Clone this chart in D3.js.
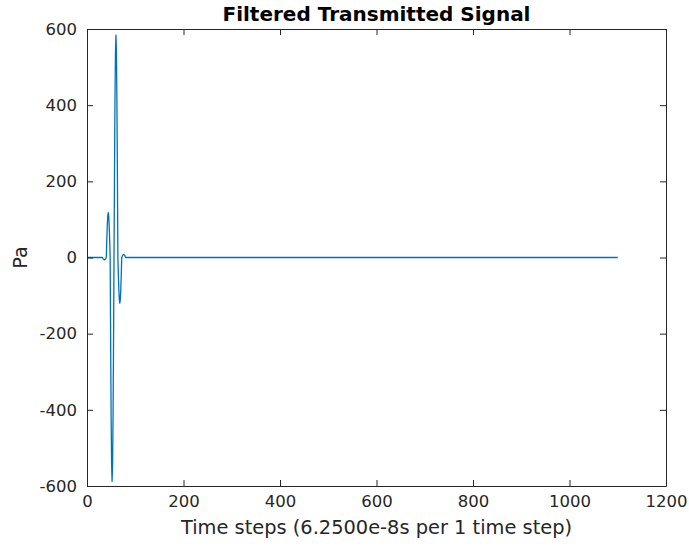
<!DOCTYPE html>
<html>
<head>
<meta charset="utf-8">
<script src="https://cdn.jsdelivr.net/npm/d3@7"></script>
<style>
  html, body { margin: 0; padding: 0; background: #fff; }
  svg { display: block; }
  text { font-family: "DejaVu Sans", sans-serif; }
</style>
</head>
<body>
<div id="chart"></div>
<script>
// ---- data ----
const title = "Filtered Transmitted Signal";
const xLabel = "Time steps (6.2500e-8s per 1 time step)";
const yLabel = "Pa";
const xTicks = [0, 200, 400, 600, 800, 1000, 1200];
const yTicks = [-600, -400, -200, 0, 200, 400, 600];

const timeSteps = [0, 32, 33, 34, 35, 36, 37, 38, 39, 40,
  41, 42, 43, 44, 45, 46, 47, 48,
  49, 50, 51, 52, 53, 54, 55, 56,
  57, 58, 59, 60, 61, 62, 63, 64,
  65, 66, 67, 68, 69, 70, 71, 72,
  73, 74, 75, 76, 77, 78, 79, 80, 1100];
const pressure = [0, 0, -2.3, -4.2, -5.5, -6, -5.5, -4.2, -2.3, 0,
  45, 83, 109, 118, 109, 83, 45, 0,
  -225, -416, -543, -588, -543, -416, -225, 0,
  224, 413, 540, 584, 540, 413, 224, 0,
  -46, -85, -111, -120, -111, -85, -46, 0,
  3, 6, 7, 8, 7, 6, 3, 0, 0];

// ---- layout ----
const W = 689, H = 548;
const mLeft = 87, mRight = 666, mTop = 29, mBottom = 486;
const axisColor = "#262626";
const lineColor = "#0072BD";
const tickLen = 6;
const fmt = v => String(v); // plain integers with ASCII hyphen minus

const svg = d3.select("#chart").append("svg").attr("width", W).attr("height", H);

const x = d3.scaleLinear().domain([0, 1200]).range([mLeft, mRight]);
const y = d3.scaleLinear().domain([-600, 600]).range([mBottom, mTop]);

// data line
const points = timeSteps.map((t, i) => [t, pressure[i]]);
svg.append("path")
  .datum(points)
  .attr("fill", "none")
  .attr("stroke", lineColor)
  .attr("stroke-width", 1.3)
  .attr("stroke-linejoin", "round")
  .attr("d", d3.line().x(d => x(d[0])).y(d => y(d[1])));

// axes
function styleAxis(g) {
  g.selectAll("path.domain").attr("stroke", axisColor).attr("stroke-width", 1);
  g.selectAll(".tick line").attr("stroke", axisColor).attr("stroke-width", 1);
  g.selectAll(".tick text").attr("fill", axisColor).attr("font-size", "16.5px")
    .attr("font-family", "DejaVu Sans, sans-serif");
}

svg.append("g").attr("transform", `translate(0,${mBottom})`)
  .call(d3.axisBottom(x).tickValues(xTicks).tickFormat(fmt).tickSize(-tickLen).tickSizeOuter(0).tickPadding(9))
  .call(styleAxis);
svg.append("g").attr("transform", `translate(0,${mTop})`)
  .call(d3.axisTop(x).tickValues(xTicks).tickSize(-tickLen).tickSizeOuter(0).tickFormat(""))
  .call(styleAxis);
svg.append("g").attr("transform", `translate(${mLeft},0)`)
  .call(d3.axisLeft(y).tickValues(yTicks).tickFormat(fmt).tickSize(-tickLen).tickSizeOuter(0).tickPadding(10))
  .call(styleAxis);
svg.append("g").attr("transform", `translate(${mRight},0)`)
  .call(d3.axisRight(y).tickValues(yTicks).tickSize(-tickLen).tickSizeOuter(0).tickFormat(""))
  .call(styleAxis);

// title & labels
svg.append("text")
  .attr("x", (mLeft + mRight) / 2).attr("y", 21)
  .attr("text-anchor", "middle")
  .attr("font-weight", "bold").attr("font-size", "20px").attr("fill", "#000")
  .text(title);

svg.append("text")
  .attr("x", (mLeft + mRight) / 2).attr("y", 534)
  .attr("text-anchor", "middle")
  .attr("font-size", "19.4px").attr("fill", axisColor)
  .text(xLabel);

svg.append("text")
  .attr("transform", `translate(27,${(mTop + mBottom) / 2}) rotate(-90)`)
  .attr("text-anchor", "middle")
  .attr("font-size", "19.4px").attr("fill", axisColor)
  .text(yLabel);
</script>
</body>
</html>
